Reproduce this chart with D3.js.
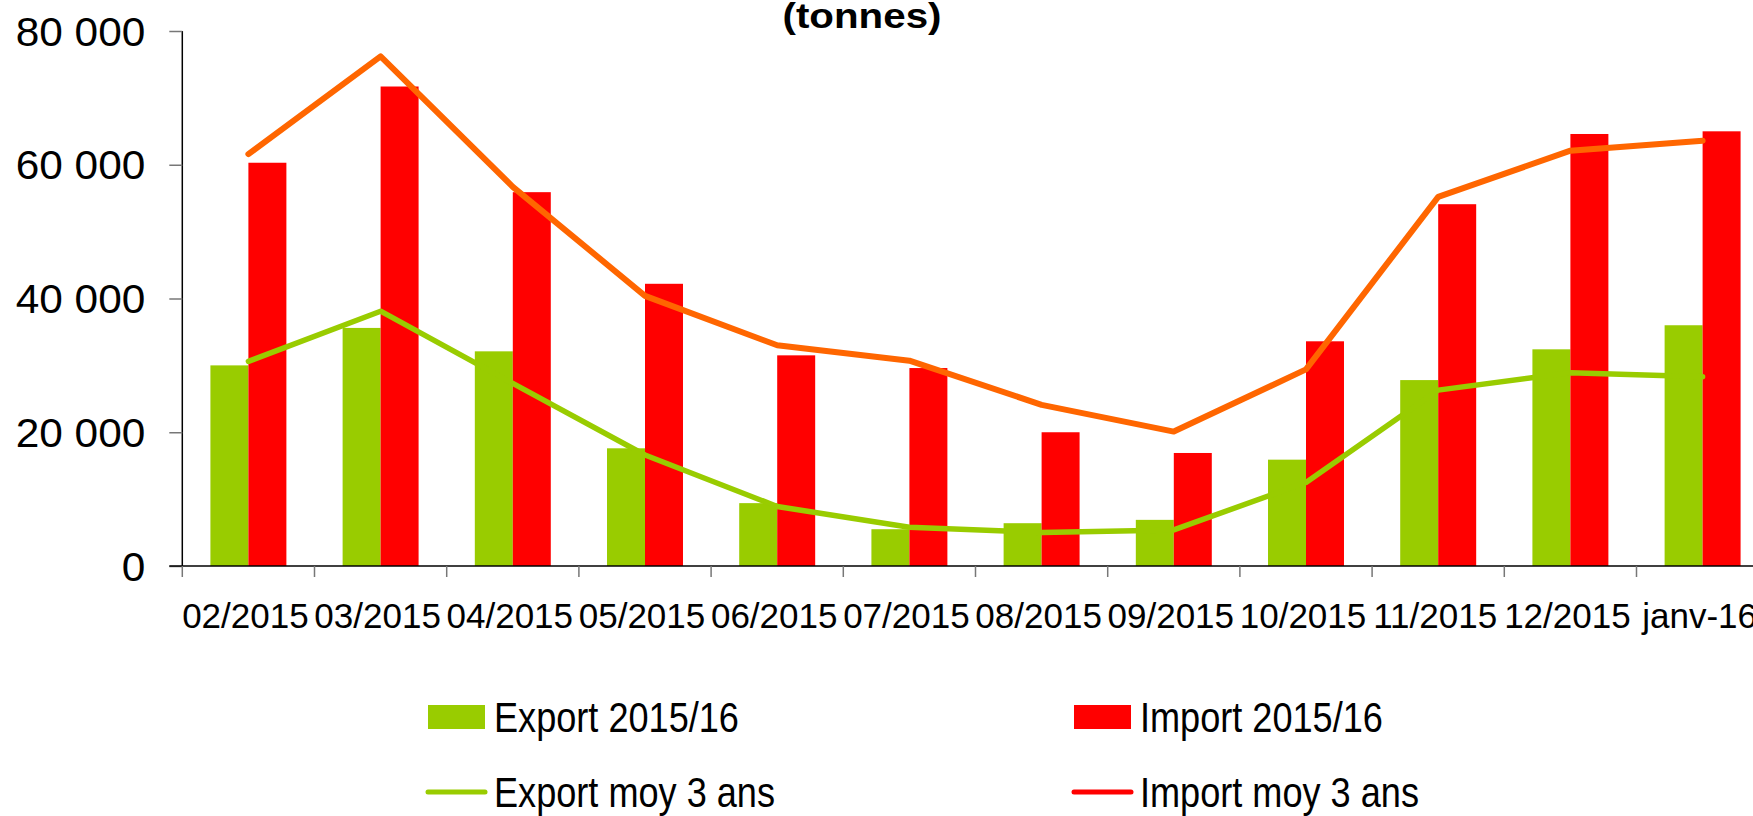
<!DOCTYPE html>
<html>
<head>
<meta charset="utf-8">
<script src="https://cdn.jsdelivr.net/npm/d3@7"></script>
<style>
  html, body { margin: 0; padding: 0; background: #fff; }
  svg { display: block; font-family: Arial, "Liberation Sans", sans-serif; }
</style>
</head>
<body>
<svg width="1753" height="816"></svg>
<script>
// monthly trade volumes, tonnes
const months = ["02/2015","03/2015","04/2015","05/2015","06/2015","07/2015","08/2015","09/2015","10/2015","11/2015","12/2015","janv-16"]
const exportVals = [30000, 35600, 32100, 17600, 9400, 5500, 6400, 6900, 15900, 27800, 32400, 36000]
const importVals = [60300, 71700, 55900, 42200, 31500, 29600, 20000, 16900, 33600, 54100, 64600, 65000]
const exportAvg  = [30600, 38100, 27300, 16600, 8900, 5800, 5000, 5400, 12500, 26300, 28900, 28300]
const importAvg  = [61600, 76200, 56700, 40400, 33000, 30700, 24100, 20100, 29400, 55200, 62100, 63600]
const yTicks = [0, 20000, 40000, 60000, 80000]

const green = "#99cc00", red = "#ff0000", orange = "#ff6600"

const svg = d3.select("svg")
const left = 182.3, step = 132.2
const y0 = 566, yTop = 31

const x = d3.scaleBand().domain(months).range([left, left + step * months.length]).paddingInner(0)
const sub = d3.scaleBand().domain(["exp","imp"]).range([0, x.bandwidth()]).paddingInner(0).paddingOuter(0.74)
const y = d3.scaleLinear().domain([0, 80000]).range([y0, yTop])

const fr = d3.formatLocale({decimal: ",", thousands: " ", grouping: [3], currency: ["", " €"]})

// title (first line is cut off in the original)
svg.append("text")
  .attr("transform", "translate(862,28) scale(1.12,1)")
  .attr("text-anchor", "middle")
  .style("font-size", "36px").style("font-weight", "bold")
  .text("(tonnes)")

// bars
const rows = months.map((m, i) => ({m, exp: exportVals[i], imp: importVals[i]}))
const grp = svg.append("g").selectAll("g").data(rows).join("g")
  .attr("transform", d => `translate(${x(d.m)},0)`)
grp.append("rect")
  .attr("x", sub("exp")).attr("width", sub.bandwidth())
  .attr("y", d => y(d.exp)).attr("height", d => y0 - y(d.exp))
  .attr("fill", green)
grp.append("rect")
  .attr("x", sub("imp")).attr("width", sub.bandwidth())
  .attr("y", d => y(d.imp)).attr("height", d => y0 - y(d.imp))
  .attr("fill", red)

// 3-year averages
const line = vals => d3.line()
  .x((d, i) => x(months[i]) + x.bandwidth() / 2)
  .y(d => y(d))(vals)
svg.append("path").attr("d", line(importAvg))
  .attr("fill", "none").attr("stroke", orange).attr("stroke-width", 6)
  .attr("stroke-linejoin", "round").attr("stroke-linecap", "round")
svg.append("path").attr("d", line(exportAvg))
  .attr("fill", "none").attr("stroke", green).attr("stroke-width", 5.5)
  .attr("stroke-linejoin", "round").attr("stroke-linecap", "round")

// y axis
const yAxis = svg.append("g")
  .attr("transform", `translate(${left},0)`)
  .call(d3.axisLeft(y).tickValues(yTicks).tickSize(13).tickFormat(fr.format(",")))
yAxis.select(".domain").attr("stroke", "#000").attr("stroke-width", 1.5)
  .attr("d", `M0,${yTop}V${y0}`)
yAxis.selectAll(".tick line").attr("stroke", "#777").attr("stroke-width", 1.5)
yAxis.selectAll(".tick text")
  .attr("x", 0).attr("dy", "0.35em")
  .attr("transform", "translate(-37,0) scale(1.06,1)")
  .attr("fill", "#000")
  .style("font-size", "40px")

// x axis: line, boundary ticks, centred labels
svg.append("line")
  .attr("x1", left - 13).attr("x2", 1753).attr("y1", y0).attr("y2", y0)
  .attr("stroke", "#000").attr("stroke-width", 1.5)
svg.append("g").selectAll("line").data(months).join("line")
  .attr("x1", d => x(d)).attr("x2", d => x(d))
  .attr("y1", y0).attr("y2", y0 + 11)
  .attr("stroke", "#777").attr("stroke-width", 1.5)
const xAxis = svg.append("g")
  .attr("transform", `translate(-3,${y0})`)
  .call(d3.axisBottom(x).tickSize(0).tickPadding(37))
xAxis.select(".domain").remove()
xAxis.selectAll(".tick text").attr("fill", "#000").style("font-size", "35px")

// legend
const legend = svg.append("g")
const legItems = [
  {label: "Export 2015/16", color: green, kind: "box", lx: 428, ty: 732},
  {label: "Import 2015/16", color: red, kind: "box", lx: 1074, ty: 732},
  {label: "Export moy 3 ans", color: green, kind: "line", lx: 428, ty: 807},
  {label: "Import moy 3 ans", color: red, kind: "line", lx: 1074, ty: 807}
]
legItems.forEach(it => {
  if (it.kind === "box") {
    legend.append("rect").attr("x", it.lx).attr("y", it.ty - 27)
      .attr("width", 57).attr("height", 24).attr("fill", it.color)
  } else {
    legend.append("line").attr("x1", it.lx).attr("x2", it.lx + 57)
      .attr("y1", it.ty - 15).attr("y2", it.ty - 15)
      .attr("stroke", it.color).attr("stroke-width", 5).attr("stroke-linecap", "round")
  }
  legend.append("text")
    .attr("transform", `translate(${it.lx + 66},${it.ty}) scale(0.86,1)`)
    .style("font-size", "42px")
    .text(it.label)
})
</script>
</body>
</html>
